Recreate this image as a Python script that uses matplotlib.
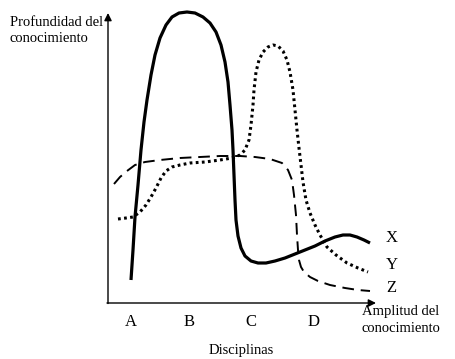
import matplotlib.pyplot as plt

plt.rcParams['font.family'] = ['Liberation Serif', 'DejaVu Serif']

x_curve_x = [131, 133, 135, 138, 141, 144, 147, 151, 155, 160, 166, 172, 179, 187, 195, 203, 210,
             216, 221, 225, 228, 230, 232, 233, 234, 235, 236, 238, 241, 245, 251, 258, 266, 275,
             285, 295, 305, 315, 325, 335, 343, 350, 357, 364, 370]
x_curve_y = [280, 250, 217, 185, 150, 122, 100, 75, 55, 38, 25, 17, 13, 12, 13, 17, 23,
             32, 45, 62, 82, 105, 130, 150, 175, 200, 220, 236, 248, 256, 261, 263, 263, 261,
             258, 254, 250, 246, 241, 237, 235, 235, 237, 240, 243]

y_curve_x = [118, 126, 133, 140, 146, 151, 156, 161, 166, 172, 180, 190, 205, 220, 232, 240, 245,
             249, 251, 253, 254, 256, 259, 263, 268, 273, 278, 283, 287, 290, 293, 295, 297, 299,
             301, 303, 306, 310, 315, 320, 327, 336, 347, 358, 368]
y_curve_y = [219, 218, 217, 212, 205, 197, 188, 178, 171, 167, 165, 163, 162, 160, 158, 155, 150,
             140, 125, 105, 90, 72, 60, 52, 47, 45, 46, 51, 60, 72, 90, 110, 130, 148,
             165, 182, 200, 213, 225, 235, 247, 255, 263, 268, 272]

z_curve_x = [114, 120, 127, 135, 145, 160, 180, 200, 220, 240, 255, 270, 282, 288, 292, 294, 296,
             297, 298, 299, 301, 304, 310, 318, 330, 345, 358, 370]
z_curve_y = [184, 177, 171, 165, 162, 160, 158, 157, 156, 156, 157, 159, 163, 170, 180, 195, 215,
             235, 250, 260, 267, 272, 277, 281, 285, 288, 290, 291]

series_names = ['X', 'Y', 'Z']
series_label_y = [238, 265, 288]

disciplines = ['A', 'B', 'C', 'D']
discipline_pos = [131, 189, 251, 314]

fig = plt.figure(figsize=(4.55, 3.59), dpi=100)
W, H = 455, 359
left, right, top, bottom = 108, 375, 13, 303
ax = fig.add_axes([left / W, (H - bottom) / H, (right - left) / W, (bottom - top) / H])
ax.set_xlim(left, right)
ax.set_ylim(bottom, top)

ax.plot(x_curve_x, x_curve_y, color='black', lw=2.3, solid_capstyle='butt',
        solid_joinstyle='round', clip_on=False)
ax.plot(y_curve_x, y_curve_y, color='black', lw=2.2, linestyle=(0, (0.9, 1.1)),
        dash_capstyle='butt', clip_on=False)
ax.plot(z_curve_x, z_curve_y, color='black', lw=1.4, linestyle=(0, (6, 3.5)),
        clip_on=False)

for name, yy in zip(series_names, series_label_y):
    ax.text(386, yy, name, fontsize=12, ha='left', va='center', clip_on=False)

# axes with arrow heads
for s in ['top', 'right', 'left', 'bottom']:
    ax.spines[s].set_visible(False)
ax.annotate('', xy=(right + 1, bottom), xytext=(left - 1, bottom),
            arrowprops=dict(arrowstyle='-|>', color='black', lw=1.0,
                            mutation_scale=11, shrinkA=0, shrinkB=0),
            annotation_clip=False)
ax.annotate('', xy=(left, top), xytext=(left, bottom + 0.5),
            arrowprops=dict(arrowstyle='-|>', color='black', lw=1.0,
                            mutation_scale=11, shrinkA=0, shrinkB=0),
            annotation_clip=False)

ax.set_xticks(discipline_pos, disciplines, fontsize=12)
ax.set_yticks([])
ax.tick_params(axis='x', length=0, pad=8)
ax.set_xlabel('Disciplinas', fontsize=10.5, labelpad=10)

ax.text(10, 30, 'Profundidad del\nconocimiento', fontsize=10.5, ha='left', va='center',
        linespacing=1.3, clip_on=False)
ax.text(362, 320, 'Amplitud del\nconocimiento', fontsize=10.5, ha='left', va='center',
        linespacing=1.3, clip_on=False)

fig.savefig('out.png', dpi=100)
